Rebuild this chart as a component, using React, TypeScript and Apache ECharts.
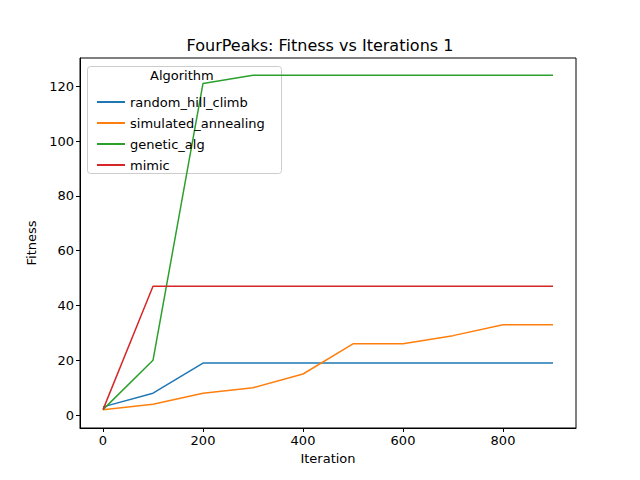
import React, { useEffect, useRef } from "react";
import * as echarts from "echarts";

const iterations = [0, 100, 200, 300, 400, 500, 600, 700, 800, 900];
const randomHillClimb = [3, 8, 19, 19, 19, 19, 19, 19, 19, 19];
const simulatedAnnealing = [2, 4, 8, 10, 15, 26, 26, 29, 33, 33];
const geneticAlg = [2, 20, 121, 124, 124, 124, 124, 124, 124, 124];
const mimic = [2, 47, 47, 47, 47, 47, 47, 47, 47, 47];

const xTicks = [0, 200, 400, 600, 800];
const yTicks = [0, 20, 40, 60, 80, 100, 120];

const seriesNames = ["random_hill_climb", "simulated_annealing", "genetic_alg", "mimic"];
const seriesData = [randomHillClimb, simulatedAnnealing, geneticAlg, mimic];
const colors = ["#1f77b4", "#ff7f0e", "#2ca02c", "#d62728"];

const font = "DejaVu Sans";

const App: React.FC = () => {
  const chartRef = useRef<HTMLDivElement>(null);

  useEffect(() => {
    const chart = echarts.init(chartRef.current!, null, { renderer: "svg" });
    const axisCommon = {
      axisLine: { show: true, onZero: false, lineStyle: { color: "#000" } },
      splitLine: { show: false },
      nameTextStyle: { color: "#000", fontSize: 13, fontFamily: font },
    };
    const label = { color: "#000", fontSize: 13, fontFamily: font, margin: 6 };
    const tick = { show: true, length: 4, lineStyle: { color: "#000" } };
    chart.setOption({
      animation: false,
      backgroundColor: "#fff",
      textStyle: { fontFamily: font },
      title: {
        text: "FourPeaks: Fitness vs Iterations 1",
        left: "center",
        top: 32,
        textStyle: { fontSize: 16, fontWeight: "normal", color: "#000", fontFamily: font },
      },
      grid: { left: 80, right: 64, top: 58, bottom: 52, show: true, borderColor: "#000", borderWidth: 1 },
      xAxis: {
        type: "value",
        min: -46,
        max: 946,
        name: "Iteration",
        nameLocation: "middle",
        nameGap: 24,
        ...axisCommon,
        axisTick: { ...tick, customValues: xTicks },
        axisLabel: { ...label, customValues: xTicks },
      },
      yAxis: {
        type: "value",
        min: -4.7,
        max: 130.3,
        name: "Fitness",
        nameLocation: "middle",
        nameGap: 42,
        ...axisCommon,
        axisTick: { ...tick, customValues: yTicks },
        axisLabel: { ...label, customValues: yTicks },
      },
      legend: {
        orient: "vertical",
        left: 92,
        top: 90,
        z: 10,
        icon: "rect",
        itemWidth: 28,
        itemHeight: 2,
        itemGap: 7,
        data: seriesNames,
        textStyle: { color: "#000", fontSize: 13, fontFamily: font, lineHeight: 14 },
      },
      graphic: [
        {
          type: "rect",
          left: 87,
          top: 66,
          z: 0,
          zlevel: 0,
          shape: { width: 194, height: 107, r: 3 },
          style: { fill: "rgba(255,255,255,0.8)", stroke: "#ccc", lineWidth: 1 },
        },
        {
          type: "text",
          left: 150,
          top: 69,
          style: { text: "Algorithm", fontSize: 13, fontFamily: font, fill: "#000" },
        },
      ],
      series: seriesNames.map((name, i) => ({
        name,
        type: "line",
        symbol: "none",
        color: colors[i],
        z: 1,
        lineStyle: { width: 1.5 },
        data: iterations.map((x, j) => [x, seriesData[i][j]]),
      })),
    });
    return () => {
      chart.dispose();
    };
  }, []);

  return (
    <div
      ref={chartRef}
      style={{ position: "fixed", left: 0, top: 0, width: 640, height: 480 }}
    ></div>
  );
};

export default App;
